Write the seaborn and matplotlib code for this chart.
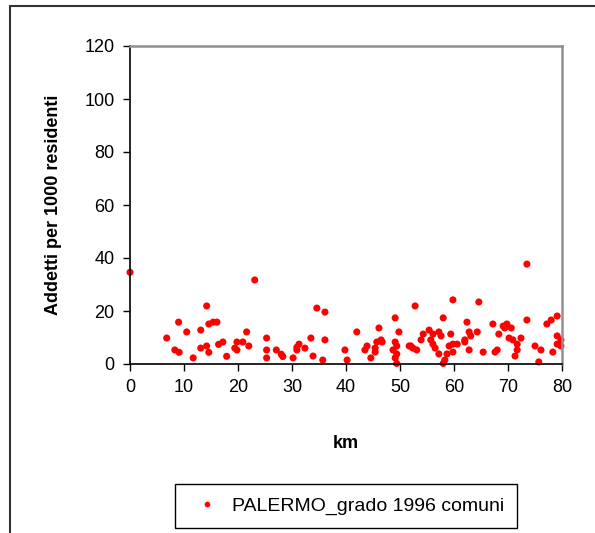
import numpy as np
import pandas as pd
import seaborn as sns
import matplotlib.pyplot as plt
from matplotlib.lines import Line2D

# distanza (km) e addetti per 1000 residenti
km = [0, 6.8, 8.3, 9.1, 9.0, 10.5, 11.7, 13.1, 13.1, 14.2, 14.2, 14.6, 14.6, 15.4, 16.1,
      16.4, 17.2, 17.9, 19.4, 19.8, 19.8, 20.9, 21.6, 22.0, 23.1, 25.3, 25.3, 25.3, 27.1,
      28.0, 28.3, 30.2, 30.9, 30.9, 31.3, 32.4, 33.5, 33.9, 34.6, 36.1, 36.1, 35.7, 39.8,
      40.2, 42.0, 43.5, 43.9, 44.6, 45.4, 45.4, 45.7, 46.1, 46.5, 46.7, 49.1, 49.1, 48.7,
      49.4, 49.4, 49.1, 49.4, 49.8, 51.7, 52.0, 52.4, 53.1, 52.8, 53.9, 54.3, 55.4,
      55.7, 56.1, 56.1, 56.5, 57.2, 57.6, 58.0, 57.2, 58.3, 58.0, 58.7, 59.1, 59.8, 59.4,
      59.8, 59.8, 60.6, 62.0, 62.0, 62.4, 62.8, 63.1, 62.8, 64.3, 64.6, 65.4, 67.2, 68.3,
      67.6, 68.0, 69.1, 69.4, 69.8, 70.6, 70.2, 70.9, 71.7, 71.7, 71.3, 72.4, 73.5, 73.5,
      75.0, 76.1, 75.7, 77.2, 78.0, 79.1, 78.3, 79.1, 79.8, 79.1, 79.8]
addetti = [34.6, 9.8, 5.3, 4.4, 15.8, 12.1, 2.3, 12.8, 6.0, 21.9, 6.8, 4.4, 15.1, 15.8, 15.8,
           7.4, 8.3, 2.9, 6.0, 5.3, 8.3, 8.3, 12.1, 6.8, 31.7, 9.8, 5.3, 2.3, 5.3,
           3.7, 2.8, 2.3, 5.3, 6.3, 7.5, 6.0, 9.8, 3.0, 21.1, 19.6, 9.1, 1.5, 5.3,
           1.5, 12.1, 5.3, 6.8, 2.3, 4.5, 6.0, 8.3, 13.6, 9.1, 8.3, 17.4, 8.3, 5.3,
           6.8, 3.8, 2.3, 0.2, 12.1, 6.8, 6.8, 6.0, 5.3, 21.9, 9.1, 11.3, 12.8,
           9.1, 11.3, 7.5, 6.0, 12.1, 10.6, 17.4, 3.8, 1.5, 0.2, 3.8, 6.8, 24.2, 11.3,
           7.5, 4.5, 7.5, 9.1, 8.3, 15.8, 12.1, 10.6, 5.3, 12.1, 23.4, 4.5, 15.1, 11.3,
           4.5, 5.3, 14.3, 13.6, 15.1, 13.6, 9.8, 9.1, 7.5, 5.3, 3.0, 9.8, 37.7, 16.6,
           6.8, 5.3, 0.8, 15.1, 16.6, 18.1, 4.5, 10.6, 9.1, 7.5, 6.8]
serie = 'PALERMO_grado 1996 comuni'

data = pd.DataFrame({'km': km, 'addetti': addetti, 'serie': serie})

sns.set_style('white')
plt.rcParams['font.family'] = ['Liberation Sans', 'DejaVu Sans']
for key in ['text.color', 'axes.labelcolor', 'xtick.color', 'ytick.color']:
    plt.rcParams[key] = 'black'

fig = plt.figure(figsize=(5.95, 5.33), dpi=100)
ax = fig.add_axes([130 / 595, 1 - 364 / 533, 432 / 595, 318 / 533])

g = sns.scatterplot(x='km', y='addetti', hue='serie', data=data, ax=ax,
                    palette=['#ff0000'], s=26, edgecolor='none', clip_on=False)

ax.set_xlim(0, 80)
ax.set_ylim(0, 120)
ax.set_xticks(range(0, 81, 10))
ax.set_yticks(range(0, 121, 20))
ax.tick_params(axis='both', labelsize=13, direction='out', length=5, width=1,
               color='black', left=True, bottom=True, pad=6)
ax.set_xlabel('km', fontsize=13, fontweight='bold', labelpad=28)
ax.set_ylabel('Addetti per 1000 residenti', fontsize=13, fontweight='bold', labelpad=16)

# assi neri a sinistra e in basso, bordo grigio sopra e a destra
for pos in ['left', 'bottom']:
    ax.spines[pos].set_color('black')
    ax.spines[pos].set_linewidth(1.2)
for pos in ['top', 'right']:
    ax.spines[pos].set_color('#909090')
    ax.spines[pos].set_linewidth(1.8)

ax.legend(loc='center', bbox_to_anchor=(346 / 595, 1 - 506 / 533),
          bbox_transform=fig.transFigure, fontsize=14, frameon=True,
          fancybox=False, edgecolor='black', framealpha=1, handletextpad=0.3,
          borderpad=0.65, markerscale=0.8)
ax.get_legend().get_frame().set_linewidth(1)

# cornice esterna del grafico (come nell'originale)
x0, y0 = 10 / 595, 1 - 6 / 533
fig.add_artist(Line2D([x0, x0], [0, y0], color='#333333', lw=1.5))
fig.add_artist(Line2D([x0, 1], [y0, y0], color='#333333', lw=1.5))

plt.savefig('out.png', dpi=100)
